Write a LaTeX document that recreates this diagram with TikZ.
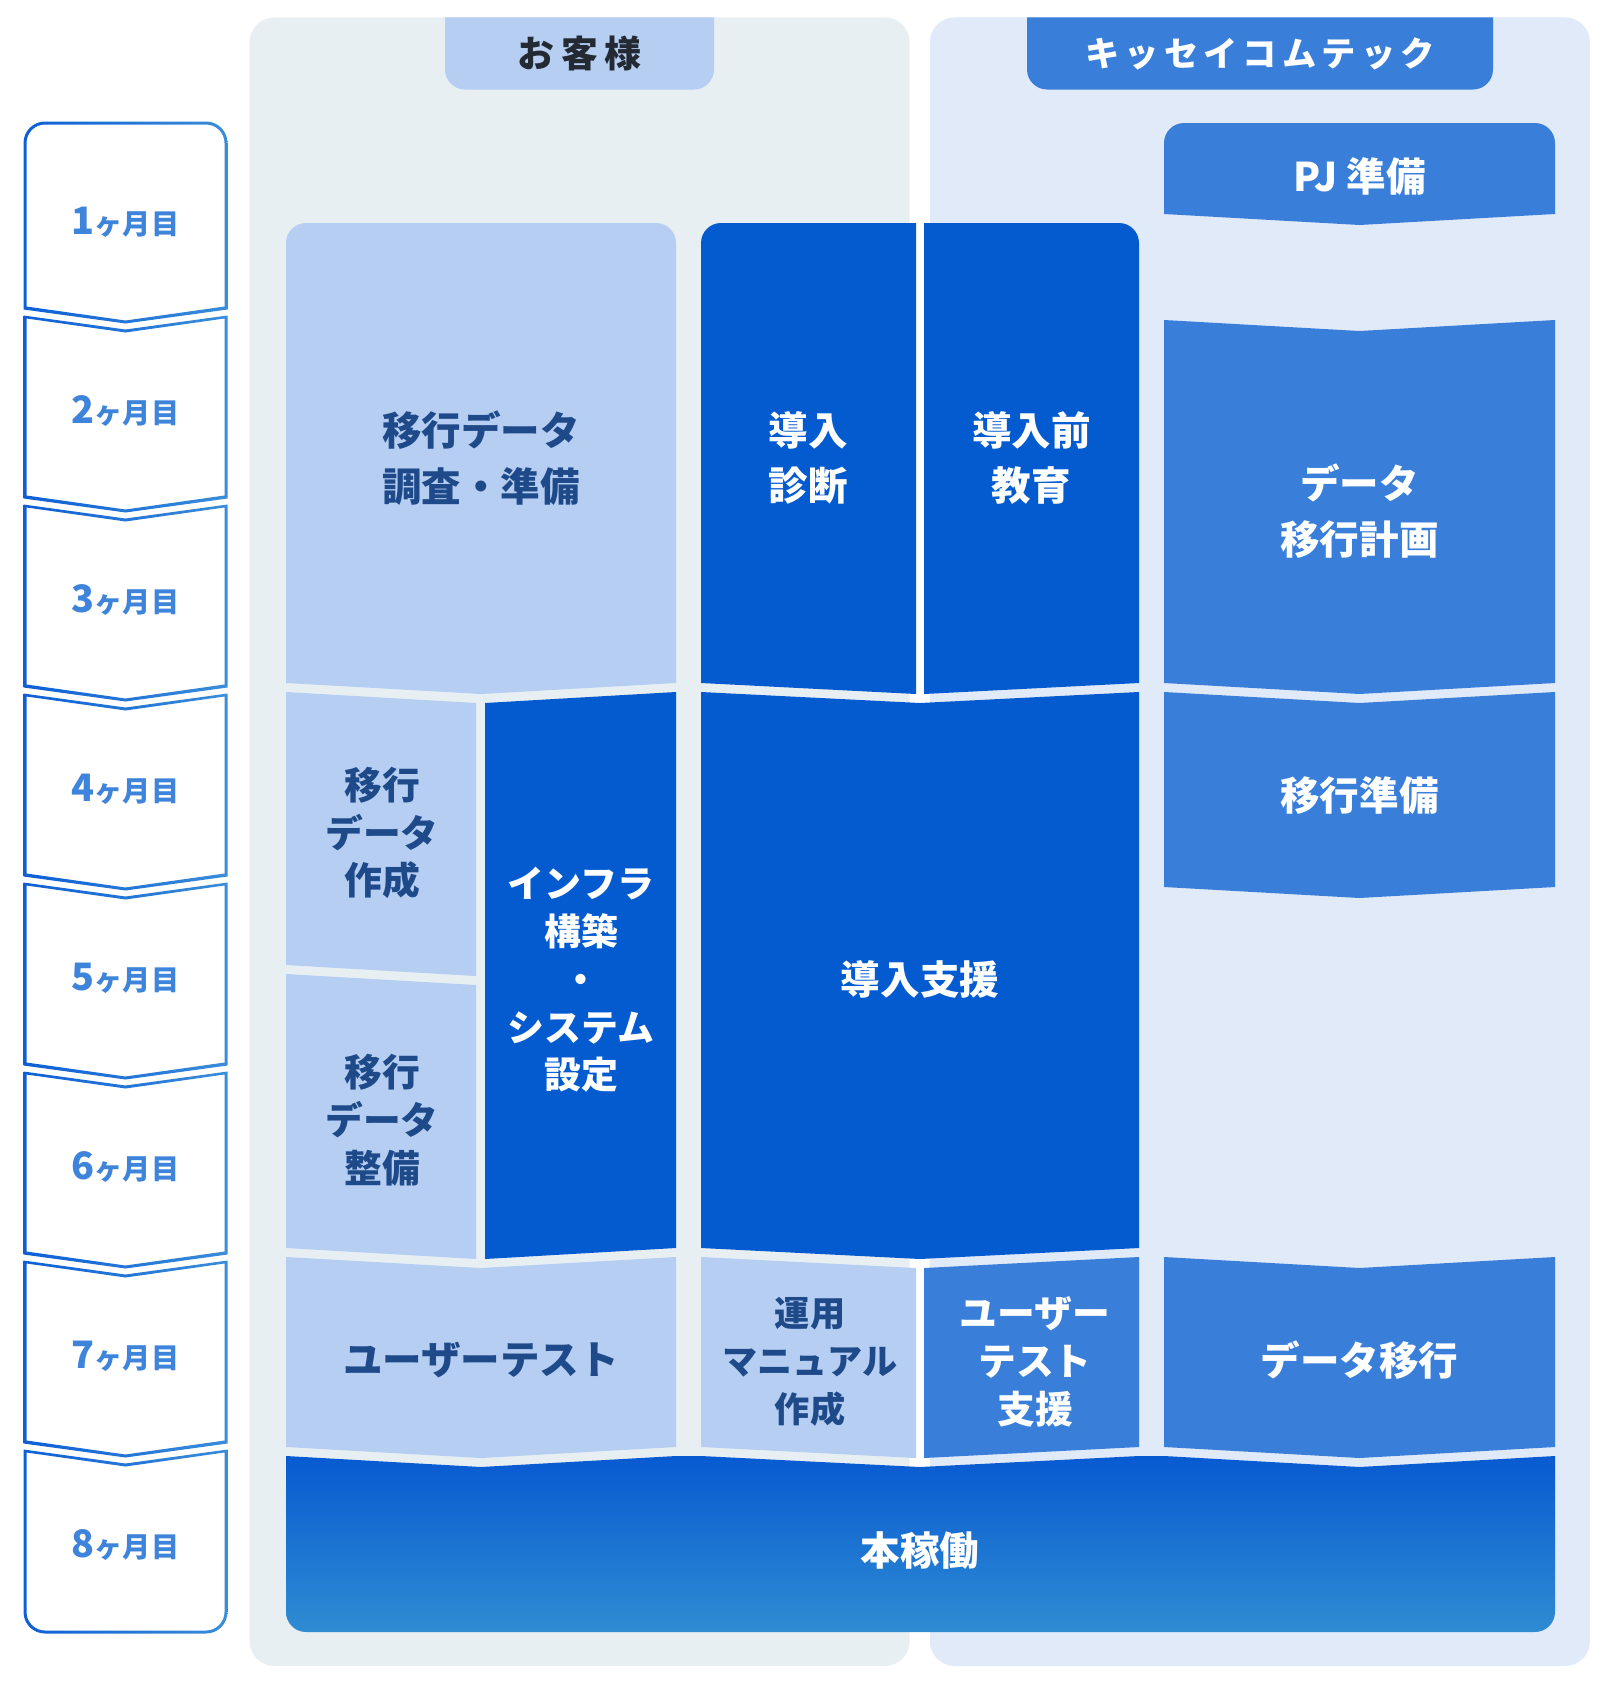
\documentclass[tikz,border=0pt]{standalone}
\usepackage{fontspec}
\setmainfont{Noto Sans CJK JP}
\usepackage{tikz}
\usetikzlibrary{shapes,backgrounds,positioning}

\definecolor{PanelL}{HTML}{E8EFF3}
\definecolor{PanelR}{HTML}{E1EAF8}
\definecolor{LightBlue}{HTML}{B5CEF2}
\definecolor{DarkBlue}{HTML}{045BD0}
\definecolor{MidBlue}{HTML}{397FDA}
\definecolor{Navy}{HTML}{1F4A8A}
\definecolor{MonthBlue}{HTML}{3E84DA}
\definecolor{MonthL}{HTML}{0E5FD6}
\definecolor{MonthR}{HTML}{3A8DD8}
\definecolor{HonTop}{HTML}{085AD1}
\definecolor{HonBot}{HTML}{2F8CD2}
\definecolor{Ink}{HTML}{232A33}

\begin{document}
\begin{tikzpicture}[x=0.2mm, y=-0.2mm]
			\tikzstyle{Month}		= [left color=MonthL, right color=MonthR, even odd rule]
			\tikzstyle{MonthText}	= [text=MonthBlue, font=\bfseries, inner sep=0pt]
			\tikzstyle{Light}		= [fill=LightBlue]
			\tikzstyle{Dark}		= [fill=DarkBlue]
			\tikzstyle{Mid}			= [fill=MidBlue]
			\tikzstyle{Big}			= [font=\bfseries\fontsize{22.5}{31.7}\selectfont, align=center, inner sep=0pt]
			\tikzstyle{Small}		= [font=\bfseries\fontsize{21.5}{27.2}\selectfont, align=center, inner sep=0pt]
			\tikzstyle{OnLight}		= [text=Navy]
			\tikzstyle{OnDark}		= [text=white]

			\useasboundingbox (0,0) rectangle (1620,1685);

			% panels and tabs
			\fill[PanelL, rounded corners=5mm] (249.5,17.4) rectangle (909.7,1666);
			\fill[PanelR, rounded corners=5mm] (929.8,17.4) rectangle (1590,1666);
			\fill[LightBlue] (445,17.4) -- (714,17.4) -- (714,69.5) arc[start angle=0, end angle=90, radius=20] -- (465,89.5) arc[start angle=90, end angle=180, radius=20] -- cycle;
			\fill[MidBlue] (1027,17.4) -- (1493,17.4) -- (1493,69.5) arc[start angle=0, end angle=90, radius=20] -- (1047,89.5) arc[start angle=90, end angle=180, radius=20] -- cycle;
			\node (tabL) at (579.5,53.5) [font=\bfseries\fontsize{21}{21}\selectfont\addfontfeature{LetterSpace=19}, text=Ink] {お客様};
			\node (tabR) at (1260,53.5) [font=\bfseries\fontsize{19.5}{19.5}\selectfont\addfontfeature{LetterSpace=15}, text=white] {キッセイコムテック};

			% months (outline as a shaded ring)
			\shade[Month] (23.5,309.5) -- (23.5,143) arc[start angle=180, end angle=270, radius=21.5] -- (206,121.5) arc[start angle=270, end angle=360, radius=21.5] -- (227.5,309.5) -- (125.5,323.5) -- cycle
				(26.5,306.5) -- (26.5,143) arc[start angle=180, end angle=270, radius=18.5] -- (206,124.5) arc[start angle=270, end angle=360, radius=18.5] -- (224.5,306.5) -- (125.5,320.5) -- cycle;
			\foreach \k in {2,...,7} {
				\pgfmathsetmacro{\t}{317+189*(\k-2)}
				\pgfmathsetmacro{\b}{308+189*(\k-1)}
				\shade[Month] (23.5,{\t-1.5}) -- (125.5,{\t+12.5}) -- (227.5,{\t-1.5}) -- (227.5,{\b+1.5}) -- (125.5,{\b+15.5}) -- (23.5,{\b+1.5}) -- cycle
					(26.5,{\t+1.5}) -- (125.5,{\t+15.5}) -- (224.5,{\t+1.5}) -- (224.5,{\b-1.5}) -- (125.5,{\b+12.5}) -- (26.5,{\b-1.5}) -- cycle;
			}
			\shade[Month] (23.5,1449.5) -- (125.5,1463.5) -- (227.5,1449.5) -- (227.5,1612) arc[start angle=0, end angle=90, radius=21.5] -- (45,1633.5) arc[start angle=90, end angle=180, radius=21.5] -- cycle
				(26.5,1452.5) -- (125.5,1466.5) -- (224.5,1452.5) -- (224.5,1612) arc[start angle=0, end angle=90, radius=18.5] -- (45,1630.5) arc[start angle=90, end angle=180, radius=18.5] -- cycle;
			\foreach \k in {1,...,8}
				\node (mon\k) at (125.5,{222+189*(\k-1)}) [MonthText] {{\fontsize{21.5}{21.5}\selectfont\k}{\fontsize{16}{16}\selectfont ヶ月目}};

			% first rows
			\fill[Mid] (1164,214) -- (1164,143) arc[start angle=180, end angle=270, radius=20] -- (1535,123) arc[start angle=270, end angle=360, radius=20] -- (1555,214) -- (1359.5,225) -- cycle;
			\fill[Light] (286,683) -- (286,243) arc[start angle=180, end angle=270, radius=20] -- (656,223) arc[start angle=270, end angle=360, radius=20] -- (676,683) -- (481,694) -- cycle;
			\fill[Dark] (701,683) -- (701,243) arc[start angle=180, end angle=270, radius=20] -- (916,223) -- (916,694) -- cycle;
			\fill[Dark] (924,694) -- (924,223) -- (1119,223) arc[start angle=270, end angle=360, radius=20] -- (1139,683) -- cycle;
			\fill[Mid] (1164,320) -- (1359.5,331) -- (1555,320) -- (1555,683) -- (1359.5,694) -- (1164,683) -- cycle;

			% middle rows
			\fill[Light] (286,692) -- (476,703) -- (476,976) -- (286,965) -- cycle;
			\fill[Light] (286,974) -- (476,985) -- (476,1259) -- (286,1248) -- cycle;
			\fill[Dark] (485,703) -- (676,692) -- (676,1248) -- (485,1259) -- cycle;
			\fill[Dark] (701,692) -- (920,703) -- (1139,692) -- (1139,1248) -- (920,1259) -- (701,1248) -- cycle;
			\fill[Mid] (1164,692) -- (1359.5,703) -- (1555,692) -- (1555,887) -- (1359.5,898) -- (1164,887) -- cycle;

			% last rows
			\fill[Light] (286,1257) -- (481,1268) -- (676,1257) -- (676,1447) -- (481,1458) -- (286,1447) -- cycle;
			\fill[Light] (701,1257) -- (916,1268) -- (916,1458) -- (701,1447) -- cycle;
			\fill[Mid] (924,1268) -- (1139,1257) -- (1139,1447) -- (924,1458) -- cycle;
			\fill[Mid] (1164,1257) -- (1359.5,1268) -- (1555,1257) -- (1555,1447) -- (1359.5,1458) -- (1164,1447) -- cycle;
			\shade[top color=HonTop, bottom color=HonBot] (286,1456) -- (481,1467) -- (676,1456) -- (701,1456) -- (920,1467) -- (1139,1456) -- (1164,1456) -- (1359.5,1467) -- (1555,1456) -- (1555,1612) arc[start angle=0, end angle=90, radius=20] -- (306,1632) arc[start angle=90, end angle=180, radius=20] -- cycle;

			% labels
			\node (pj) at (1359.5,176) [Big, OnDark] {PJ 準備};
			\node (chosa) at (481,458) [Big, OnLight] {移行データ\\調査・準備};
			\node (shindan) at (808.5,458) [Big, OnDark] {導入\\診断};
			\node (kyoiku) at (1031.5,458) [Big, OnDark] {導入前\\教育};
			\node (keikaku) at (1359.5,511) [Big, OnDark] {データ\\移行計画};
			\node (sakusei) at (382,833) [Small, OnLight] {移行\\データ\\作成};
			\node (seibi) at (382,1120) [Small, OnLight] {移行\\データ\\整備};
			\node (infra) at (581,980) [Small, OnDark, font=\bfseries\fontsize{21}{27.2}\selectfont] {インフラ\\構築\\・\\システム\\設定};
			\node (shien) at (920,979) [Big, OnDark] {導入支援};
			\node (junbi) at (1359.5,795) [Big, OnDark] {移行準備};
			\node (utest) at (481,1360) [Big, OnLight] {ユーザーテスト};
			\node (manual) at (810,1362) [Small, OnLight, font=\bfseries\fontsize{20}{27.2}\selectfont] {運用\\マニュアル\\作成};
			\node (utshien) at (1035,1362) [Small, OnDark] {ユーザー\\テスト\\支援};
			\node (iko) at (1359.5,1360) [Big, OnDark] {データ移行};
			\node (honkado) at (920,1551) [Big, OnDark] {本稼働};
		\end{tikzpicture}
\end{document}
